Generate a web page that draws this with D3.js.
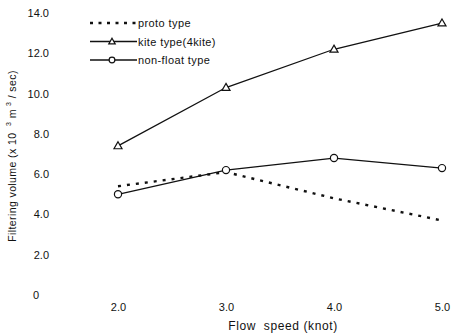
<!DOCTYPE html>
<html>
<head>
<script src="https://d3js.org/d3.v7.min.js"></script>
<style>
  body { margin: 0; background: #fff; }
  text { font-family: "Liberation Sans", Arial, sans-serif; fill: #111; }
  .tick text { font-size: 11px; }
  .line { fill: none; stroke: #111; }
</style>
</head>
<body>
<div id="chart"></div>
<script>
const speeds = [2.0, 3.0, 4.0, 5.0]
const proto = [5.4, 6.1, 4.8, 3.7]
const kite = [7.4, 10.3, 12.2, 13.5]
const nonFloat = [5.0, 6.2, 6.8, 6.3]
const yTicks = [0, 2, 4, 6, 8, 10, 12, 14]

const w = 451, h = 335

const x = d3.scaleLinear().domain([2, 5]).range([118, 442])
const y = d3.scaleLinear().domain([0, 14]).range([295, 13])

const svg = d3.select('#chart').append('svg')
  .attr('width', w).attr('height', h)

// axes: labels only, no lines
const xAxis = svg.append('g')
  .attr('transform', 'translate(0,' + 300 + ')')
  .call(d3.axisBottom(x).tickValues(speeds).tickFormat(d3.format('.1f')).tickSize(0).tickPadding(0))
xAxis.select('.domain').remove()
xAxis.selectAll('text').attr('dy', '1em')

const yAxis = svg.append('g')
  .attr('transform', 'translate(49,0)')
  .call(d3.axisLeft(y).tickValues(yTicks).tickFormat(d => d === 0 ? '0' : d3.format('.1f')(d)).tickSize(0).tickPadding(0))
yAxis.select('.domain').remove()
yAxis.selectAll('text').filter(d => d === 0).attr('x', -10)

// series
const series = [
  { name: 'proto type', values: proto, dash: '3,6', marker: null },
  { name: 'kite type(4kite)', values: kite, dash: null, marker: 'tri' },
  { name: 'non-float type', values: nonFloat, dash: null, marker: 'circ' }
]

const line = d3.line().x((d, i) => x(speeds[i])).y(d => y(d))

function drawMarker(g, type, cx, cy, scale) {
  if (type === 'tri') {
    g.append('path').attr('d', d3.symbol().type(d3.symbolTriangle).size(28 * scale * scale)())
      .attr('transform', 'translate(' + cx + ',' + (cy + 0.5) + ')')
      .attr('fill', '#fff').attr('stroke', '#111').attr('stroke-width', 1.2)
  } else if (type === 'circ') {
    g.append('circle').attr('cx', cx).attr('cy', cy).attr('r', 3.6 * scale)
      .attr('fill', '#fff').attr('stroke', '#111').attr('stroke-width', 1.2)
  }
}

series.forEach(s => {
  svg.append('path').datum(s.values)
    .attr('class', 'line')
    .attr('d', line)
    .style('stroke-dasharray', s.dash)
    .style('stroke-width', s.dash ? 2.4 : 1.3)
})
series.forEach(s => {
  s.values.forEach((v, i) => drawMarker(svg, s.marker, x(speeds[i]), y(v), 1))
})

// legend
const legend = svg.append('g').attr('transform', 'translate(90,23)')
series.forEach((s, i) => {
  const g = legend.append('g').attr('transform', 'translate(0,' + (i * 18.5) + ')')
  g.append('line').attr('x1', 0).attr('x2', 47).attr('y1', 0).attr('y2', 0)
    .attr('stroke', '#111')
    .attr('stroke-width', s.dash ? 2.4 : 1.3)
    .attr('stroke-dasharray', s.dash ? '3,5.5' : null)
  drawMarker(g, s.marker, 22, 0, 0.8)
  g.append('text').attr('x', 48).attr('y', 4)
    .style('font-size', '11px').style('letter-spacing', '0.4px').text(s.name)
})

// axis titles
svg.append('text')
  .attr('x', 283).attr('y', 330)
  .attr('text-anchor', 'middle')
  .style('font-size', '12px')
  .style('letter-spacing', '0.6px')
  .style('white-space', 'pre')
  .text('Flow  speed (knot)')

const yt = svg.append('text')
  .attr('transform', 'translate(16,156) rotate(-90)')
  .attr('text-anchor', 'middle')
  .style('font-size', '10.5px')
  .style('letter-spacing', '0.4px')
  .style('white-space', 'pre')
yt.append('tspan').text('Filtering volume (x 10  ')
yt.append('tspan').attr('dy', -5).style('font-size', '7px').text('3')
yt.append('tspan').attr('dy', 5).text(' m ')
yt.append('tspan').attr('dy', -5).style('font-size', '7px').text('3')
yt.append('tspan').attr('dy', 5).text(' / sec)')
</script>
</body>
</html>
